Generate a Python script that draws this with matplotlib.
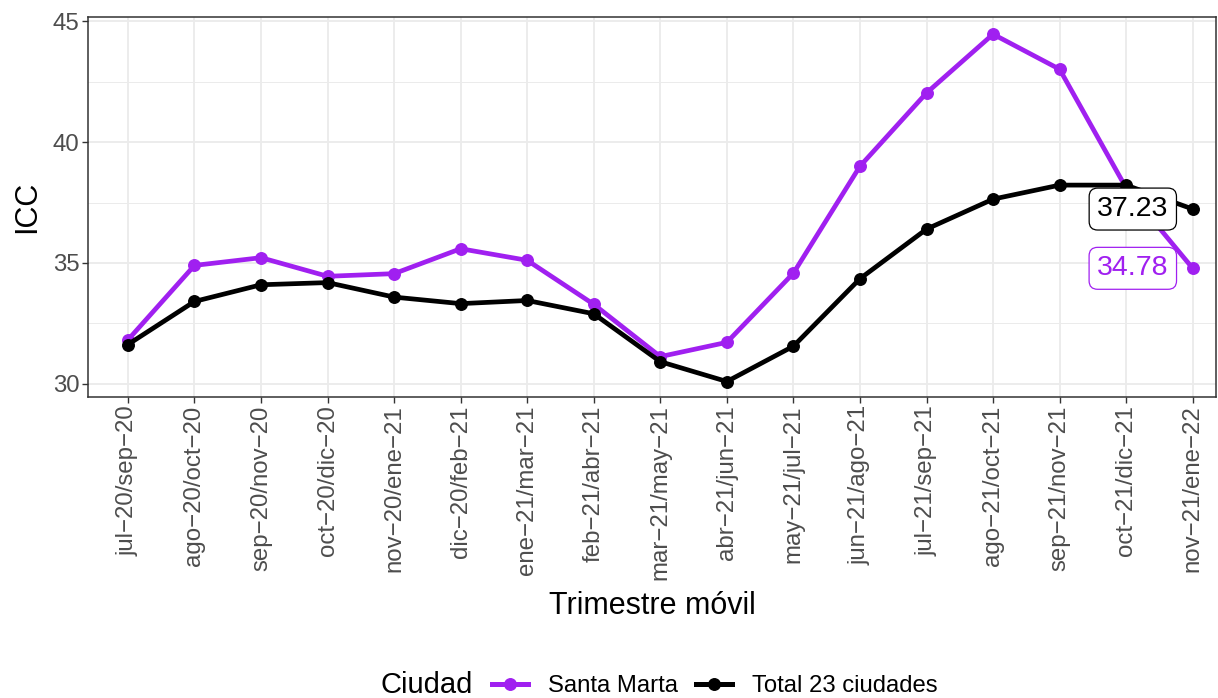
import matplotlib
matplotlib.use("Agg")
import matplotlib.pyplot as plt
from matplotlib.lines import Line2D
import numpy as np

plt.rcParams['font.family'] = ['Liberation Sans', 'DejaVu Sans']

# datos
trimestres = ['jul\u221220/sep\u221220', 'ago\u221220/oct\u221220', 'sep\u221220/nov\u221220',
              'oct\u221220/dic\u221220', 'nov\u221220/ene\u221221', 'dic\u221220/feb\u221221',
              'ene\u221221/mar\u221221', 'feb\u221221/abr\u221221', 'mar\u221221/may\u221221',
              'abr\u221221/jun\u221221', 'may\u221221/jul\u221221', 'jun\u221221/ago\u221221',
              'jul\u221221/sep\u221221', 'ago\u221221/oct\u221221', 'sep\u221221/nov\u221221',
              'oct\u221221/dic\u221221', 'nov\u221221/ene\u221222']
santa_marta = [31.82, 34.90, 35.22, 34.45, 34.56, 35.59, 35.11, 33.29, 31.13, 31.72,
               34.58, 39.00, 42.03, 44.46, 43.01, 38.10, 34.78]
total_23 = [31.63, 33.41, 34.10, 34.19, 33.59, 33.32, 33.45, 32.90, 30.92, 30.10,
            31.56, 34.35, 36.40, 37.64, 38.22, 38.22, 37.23]
series_names = ['Santa Marta', 'Total 23 ciudades']
colores = ['#A020F0', 'black']

fig = plt.figure(figsize=(12.18, 6.98), dpi=100)
ax = fig.add_axes([88/1218, 1-397/698, 1128/1218, 380/698])

x = np.arange(len(trimestres))
series = [santa_marta, total_23]
for vals, col in zip(series, colores):
    ax.plot(x, vals, color=col, lw=3.4, marker='o', ms=8.3, zorder=3)

# etiquetas del ultimo valor
for vals, col in zip(series, colores):
    ax.text(x[-1] - 0.9, vals[-1], f"{vals[-1]:.2f}", color=col, fontsize=20.5,
            ha='center', va='center', zorder=5,
            bbox=dict(boxstyle='round,pad=0.28,rounding_size=0.3', fc='white', ec=col, lw=0.9))

ax.set_xlim(-0.6, 16.35)
ax.set_ylim(29.46, 45.17)
ax.set_xticks(x)
ax.set_xticklabels(trimestres, rotation=90, ha='center', va='top')
ax.set_yticks([30, 35, 40, 45])
ax.set_yticks([32.5, 37.5, 42.5], minor=True)
ax.grid(which='major', color='#EBEBEB', lw=1.3, zorder=0)
ax.grid(which='minor', axis='y', color='#EBEBEB', lw=0.7, zorder=0)
ax.set_axisbelow(True)
ax.tick_params(axis='both', which='major', length=4, width=1, color='#333333',
               labelsize=17.3, labelcolor='#4D4D4D', pad=2)
ax.tick_params(axis='y', which='minor', length=0)
for s in ax.spines.values():
    s.set_color('#333333')
    s.set_linewidth(1.1)

ax.set_ylabel('ICC', fontsize=22, labelpad=8)
ax.set_xlabel('Trimestre m\u00f3vil', fontsize=22, labelpad=8)

handles = [Line2D([], [], color=c, lw=3.6, marker='o', ms=8.3) for c in colores]
fig.text(380/1218, 1-685/698, 'Ciudad', fontsize=21, ha='left', va='center')
fig.legend(handles, series_names, loc='center left', bbox_to_anchor=(492/1218, 1-686/698),
           ncol=2, frameon=False, fontsize=17.2, handlelength=1.5, handletextpad=0.85,
           columnspacing=0.75, borderpad=0, borderaxespad=0)

fig.savefig('out.png', dpi=100)
